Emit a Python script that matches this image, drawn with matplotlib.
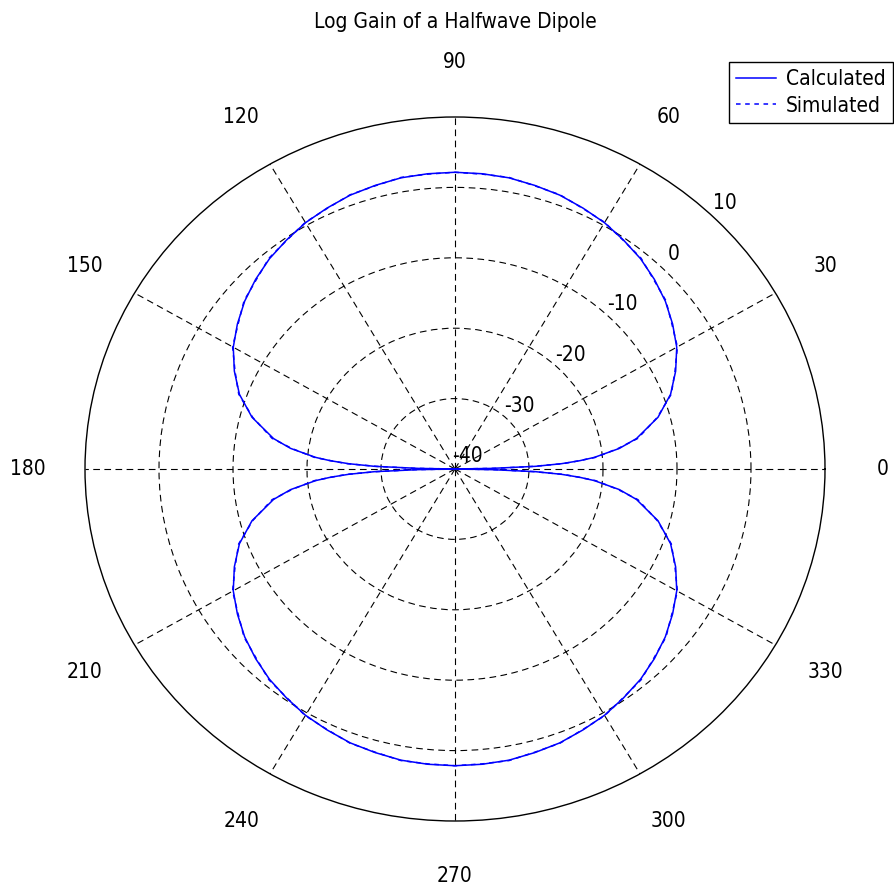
import numpy as np
import matplotlib
matplotlib.use("Agg")
import matplotlib.pyplot as plt

plt.rcParams['font.family'] = ['DejaVu Sans']
plt.rcParams['font.stretch'] = 'condensed'

quad_deg = np.array([0, 1, 2, 3, 4, 5, 7.5, 10, 15, 20, 25, 30, 35, 40, 45,
                     50, 55, 60, 65, 70, 75, 80, 85, 90])
calc_db = np.array([-40, -35.1, -29.1, -25.6, -23.1, -21.1, -17.6, -15.1, -11.6,
                    -9.0, -7.1, -5.4, -4.1, -2.9, -1.9, -1.0, -0.3, 0.4, 0.9,
                    1.4, 1.7, 2.0, 2.1, 2.15])
sim_db = np.array([-40, -34.6, -29.4, -25.3, -23.2, -20.9, -17.8, -14.9, -11.7,
                   -8.9, -7.2, -5.3, -4.2, -2.8, -2.0, -0.9, -0.35, 0.45, 0.85,
                   1.45, 1.65, 2.05, 2.05, 2.15])

theta_ticks = list(range(0, 360, 30))
ring_vals = [-30, -20, -10, 0]
ring_labels = [-40, -30, -20, -10, 0, 10]
r_min, r_max = -40, 10


def full_circle(deg, vals):
    # mirror the quadrant into the other three
    th = np.concatenate([deg, 180 - deg[::-1][1:], 180 + deg[1:], 360 - deg[::-1][1:]])
    r = np.concatenate([vals, vals[::-1][1:], vals[1:], vals[::-1][1:]])
    return np.deg2rad(th), r


fig = plt.figure(figsize=(8.95, 8.88), dpi=100)
ax = fig.add_axes([85 / 895, 67 / 888, 740 / 895, 704 / 888], projection='polar')
ax.set_aspect('auto')
ax.set_rlim(r_min, r_max)

ax.set_thetagrids(theta_ticks, labels=[''] * len(theta_ticks))
ax.set_rgrids(ring_vals, labels=[''] * len(ring_vals))
ax.grid(True, color='black', linestyle=(0, (6, 4)), linewidth=0.8)
ax.spines['polar'].set_color('black')
ax.spines['polar'].set_linewidth(1.0)
ax.tick_params(length=0)

th, r = full_circle(quad_deg, calc_db)
ax.plot(th, r, color='#0000ff', linewidth=1.1, label='Calculated')
th, r = full_circle(quad_deg, sim_db)
ax.plot(th, r, color='#0000ff', linewidth=1.1, linestyle=(0, (3, 3)), label='Simulated')

# angle labels outside the circle
for a in theta_ticks:
    ax.text(np.deg2rad(a), r_max + 0.155 * (r_max - r_min), str(a),
            ha='center', va='center', fontsize=15)

# radial labels along ~46 degrees
for v in ring_labels:
    ax.text(np.deg2rad(46), v + 2.5, str(v), ha='center', va='center', fontsize=15)

fig.text(455 / 895, 1 - 22 / 888, 'Log Gain of a Halfwave Dipole',
         ha='center', va='center', fontsize=15)

leg = ax.legend(loc='upper right', bbox_to_anchor=(893 / 895, 1 - 62 / 888),
                bbox_transform=fig.transFigure, borderaxespad=0, fontsize=15,
                fancybox=False, framealpha=1, edgecolor='black', handlelength=1.9,
                borderpad=0.35, labelspacing=0.3, handletextpad=0.5)
leg.get_frame().set_linewidth(1.0)

fig.savefig('out.png', dpi=100)
